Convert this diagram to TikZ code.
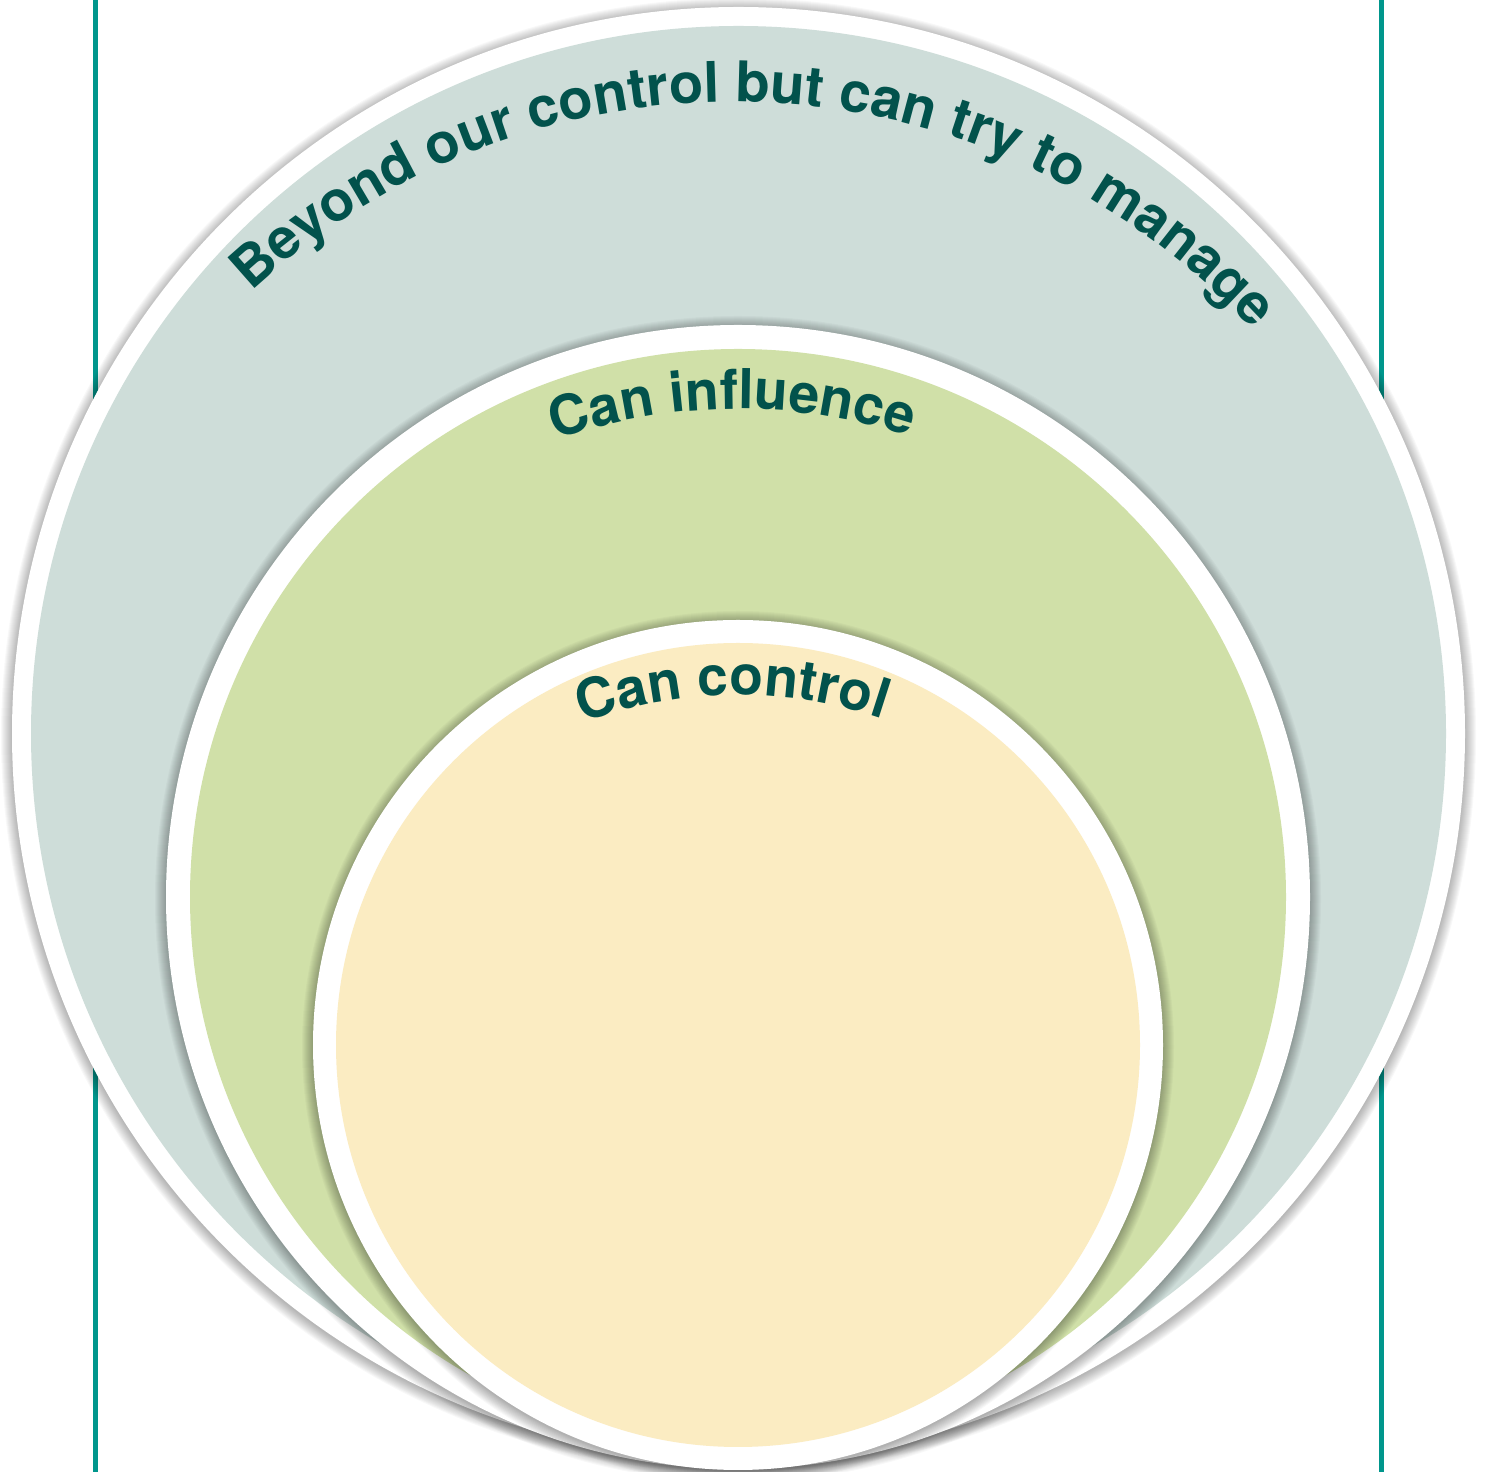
\documentclass[tikz,border=0pt]{standalone}
\usepackage{fontspec}
\newfontfamily\lblfont{TeX Gyre Heros}
\usetikzlibrary{decorations.text}
\definecolor{outerfill}{RGB}{206,221,217}
\definecolor{midfill}{RGB}{208,224,168}
\definecolor{innerfill}{RGB}{251,236,194}
\definecolor{txtgreen}{RGB}{2,82,76}
\definecolor{rule}{RGB}{0,150,140}
\begin{document}
\begin{tikzpicture}[x=1pt,y=1pt,
  shadowlayer/.style={fill=black, fill opacity=0.026},
  disk/.style={fill=white},
  rulestyle/.style={draw=rule, line width=5pt},
  arctext/.style 2 args={decorate, decoration={text along path, text align=center, text color=txtgreen, text={|\lblfont\bfseries\fontsize{#1}{60}\selectfont|#2}}}
]
\useasboundingbox (0,0) rectangle (1486,1472);
\coordinate (lt) at (95.5,1472);
\coordinate (lb) at (95.5,0);
\coordinate (rt) at (1381.5,1472);
\coordinate (rb) at (1381.5,0);
\draw[rulestyle] (lb) -- (lt);
\draw[rulestyle] (rb) -- (rt);
% outer
\coordinate (co) at (738.5,738.5);
\foreach \k in {1,...,12} \fill[shadowlayer] ([yshift=-2pt]co) circle[radius=726.5pt+\k pt-1pt];
\fill[disk] (co) circle[radius=726.5pt];
\fill[outerfill] (co) circle[radius=707.5pt];
% middle
\coordinate (cm) at (738,575);
\foreach \k in {1,...,12} \fill[shadowlayer] ([yshift=-2pt]cm) circle[radius=572pt+\k pt-1pt];
\fill[disk] (cm) circle[radius=572pt];
\fill[midfill] (cm) circle[radius=548pt];
% inner
\coordinate (ci) at (738,427);
\foreach \k in {1,...,12} \fill[shadowlayer] ([yshift=-2pt]ci) circle[radius=425pt+\k pt-1pt];
\fill[disk] (ci) circle[radius=425pt];
\fill[innerfill] (ci) circle[radius=402pt];
% texts
\coordinate (t1) at (733,664);
\coordinate (t2) at (738,516);
\coordinate (t3) at (738,327);
\path[arctext={56}{Beyond our control but can try to manage}] ([shift={(177.8:706)}]t1) arc[start angle=177.8,end angle=-2.2,radius=706pt];
\path[arctext={55}{Can influence}] ([shift={(175.6:547)}]t2) arc[start angle=175.6,end angle=5.6,radius=547pt];
\path[arctext={55}{Can control}] ([shift={(175.7:450)}]t3) arc[start angle=175.7,end angle=5.7,radius=450pt];
\end{tikzpicture}
\end{document}
